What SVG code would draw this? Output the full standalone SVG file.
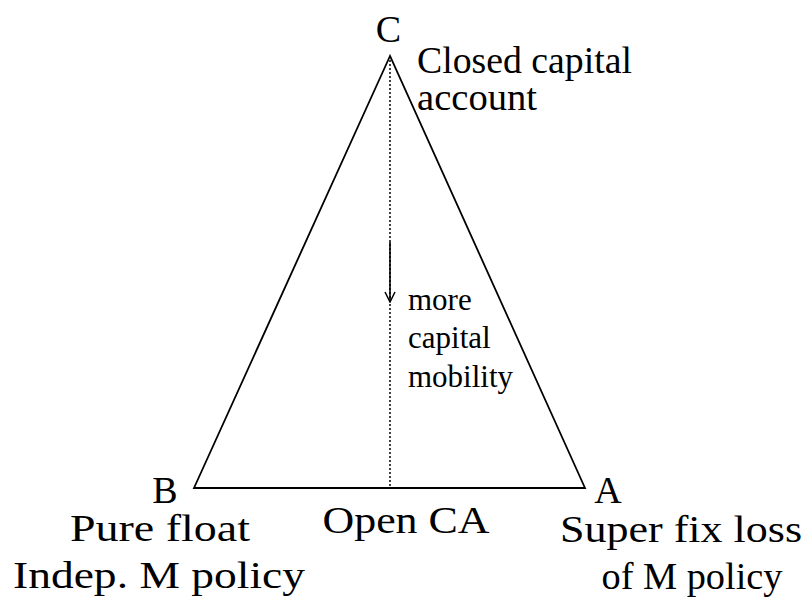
<svg xmlns="http://www.w3.org/2000/svg" width="809" height="599" viewBox="0 0 809 599">
<style>
.big{font-size:38px}
.mid{font-size:37px}
.small{font-size:31px}
.edge{fill:none;stroke:#000;stroke-width:1.8;stroke-linejoin:miter}
.dot{stroke:#000;stroke-width:1.5;stroke-dasharray:2 2}
</style>
<defs>
<marker id="v" viewBox="0 0 12 12" refX="11" refY="6" markerWidth="12" markerHeight="12" markerUnits="userSpaceOnUse" orient="auto">
<path d="M1,1 L11,6 L1,11" fill="none" stroke="#000" stroke-width="1.5"/>
</marker>
</defs>
<rect width="809" height="599" fill="#fff"/>
<g id="triangle">
<path class="edge" d="M390,56 L194,488 L585,488 Z"/>
</g>
<g id="connectors">
<line class="dot" x1="390" y1="60" x2="390" y2="488"/>
<line x1="390" y1="242" x2="390" y2="302" stroke="#000" stroke-width="1.6" marker-end="url(#v)"/>
</g>
<g font-family="Liberation Serif, DejaVu Serif, serif" fill="#000">
<g id="node-C">
<text class="big" x="388.5" y="42" text-anchor="middle">C</text>
<text class="mid" x="417" y="73" textLength="215" lengthAdjust="spacingAndGlyphs">Closed capital</text>
<text class="mid" x="417" y="110" textLength="120" lengthAdjust="spacingAndGlyphs">account</text>
</g>
<g id="label-mobility">
<text class="small" x="408" y="310">more</text>
<text class="small" x="408" y="348">capital</text>
<text class="small" x="408" y="387">mobility</text>
</g>
<g id="node-B">
<text class="big" x="165" y="503" text-anchor="middle">B</text>
<text class="big" x="160" y="541" text-anchor="middle" textLength="180" lengthAdjust="spacingAndGlyphs">Pure float</text>
<text class="big" x="159" y="588" text-anchor="middle" textLength="292" lengthAdjust="spacingAndGlyphs">Indep. M policy</text>
</g>
<g id="node-open">
<text class="big" x="406" y="533" text-anchor="middle" textLength="167" lengthAdjust="spacingAndGlyphs">Open CA</text>
</g>
<g id="node-A">
<text class="big" x="608" y="503" text-anchor="middle">A</text>
<text class="big" x="681" y="542" text-anchor="middle" textLength="242" lengthAdjust="spacingAndGlyphs">Super fix loss</text>
<text class="big" x="692" y="589" text-anchor="middle" textLength="181" lengthAdjust="spacingAndGlyphs">of M policy</text>
</g>
</g>
</svg>
